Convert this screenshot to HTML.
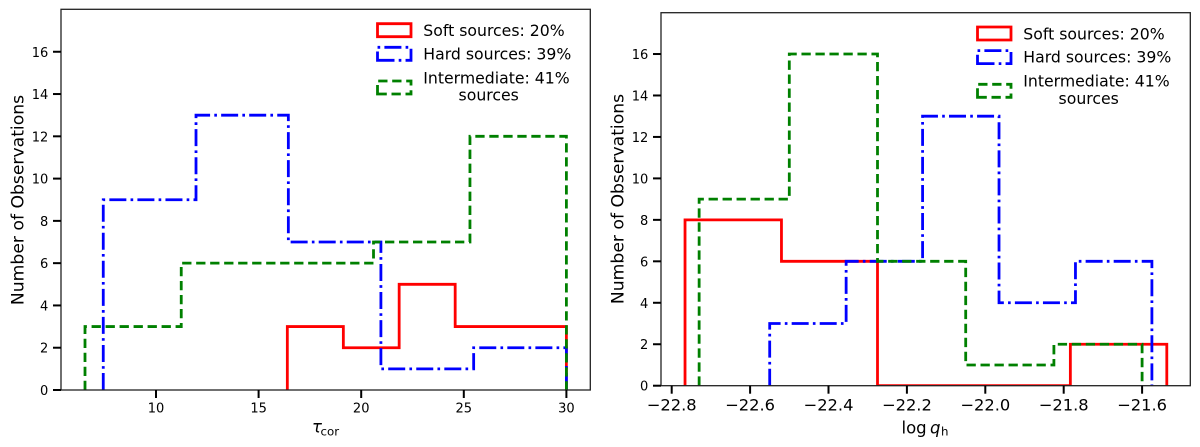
<!DOCTYPE html>
<html>
<head>
<meta charset="utf-8">
<style>
html,body{margin:0;padding:0;background:#fff;}
svg{display:block;}
text{font-family:"DejaVu Sans","Liberation Sans",sans-serif;fill:#000;}
</style>
</head>
<body>
<svg id="fig" xmlns="http://www.w3.org/2000/svg" width="1200" height="447" viewBox="0 0 1200 447">
  <defs>
    <clipPath id="clip-left"><rect x="61" y="9.3" width="529.3" height="380.7"/></clipPath>
    <clipPath id="clip-right"><rect x="661" y="12.7" width="529.3" height="373"/></clipPath>
  </defs>
  <g id="left-panel">
    <g id="left-marks" clip-path="url(#clip-left)"></g>
    <rect x="61" y="9.3" width="529.3" height="380.7" fill="none" stroke="#222" stroke-width="1.3"/>
    <g id="left-ticks"></g>
    <text transform="translate(23.5,200) rotate(-90)" text-anchor="middle" font-size="17.2">Number of Observations</text>
    <text x="312" y="432.7" font-size="16.5"><tspan font-style="italic">τ</tspan><tspan font-size="11.8" x="320.5" dy="2.7">cor</tspan></text>
    <g>
      <path d="M377.5 36.7H411V23.7H377.5Z" fill="none" stroke="#ff0000" stroke-width="2.8"/>
      <text x="423.3" y="36" font-size="15.7">Soft sources: 20%</text>
      <path d="M377.5 60.3H411V47.3H377.5Z" fill="none" stroke="#0000ff" stroke-width="2.8" stroke-dasharray="17 4.2 2.65 4.2"/>
      <text x="423.3" y="59.3" font-size="15.7">Hard sources: 39%</text>
      <path d="M377.5 94H411V81H377.5Z" fill="none" stroke="#008000" stroke-width="2.8" stroke-dasharray="9.3 4.7"/>
      <text x="423.3" y="83.3" font-size="15.7">Intermediate: 41%</text>
      <text x="488.7" y="100.7" font-size="15.7" text-anchor="middle">sources</text>
    </g>
  </g>
  <g id="right-panel">
    <g id="right-marks" clip-path="url(#clip-right)"></g>
    <rect x="661" y="12.7" width="529.3" height="373" fill="none" stroke="#222" stroke-width="1.3"/>
    <g id="right-ticks"></g>
    <text transform="translate(623.5,199) rotate(-90)" text-anchor="middle" font-size="17.2">Number of Observations</text>
    <text x="901.5" y="433.3" font-size="16.5">log<tspan font-style="italic" x="930">q</tspan><tspan font-size="11.8" x="941" dy="2.2">h</tspan></text>
    <g>
      <path d="M977.5 40H1011V27H977.5Z" fill="none" stroke="#ff0000" stroke-width="2.8"/>
      <text x="1023.3" y="39.3" font-size="15.7">Soft sources: 20%</text>
      <path d="M977.5 63.6H1011V50.6H977.5Z" fill="none" stroke="#0000ff" stroke-width="2.8" stroke-dasharray="17 4.2 2.65 4.2"/>
      <text x="1023.3" y="62.6" font-size="15.7">Hard sources: 39%</text>
      <path d="M977.5 97.3H1011V84.3H977.5Z" fill="none" stroke="#008000" stroke-width="2.8" stroke-dasharray="9.3 4.7"/>
      <text x="1023.3" y="86.6" font-size="15.7">Intermediate: 41%</text>
      <text x="1088.7" y="104" font-size="15.7" text-anchor="middle">sources</text>
    </g>
  </g>
</svg>
<script>
// Left panel data (tau_cor)
const leftSoftEdges = [16.4, 19.13, 21.85, 24.58, 27.3, 30];
const leftSoftCounts = [3, 2, 5, 3, 3];
const leftHardEdges = [7.43, 11.95, 16.45, 20.96, 25.48, 30];
const leftHardCounts = [9, 13, 7, 1, 2];
const leftMidEdges = [6.54, 11.23, 15.92, 20.6, 25.3, 30];
const leftMidCounts = [3, 6, 6, 7, 12];
const leftXTicks = [10, 15, 20, 25, 30];
const leftYTicks = [0, 2, 4, 6, 8, 10, 12, 14, 16];

// Right panel data (log q_h)
const rightSoftEdges = [-22.766, -22.52, -22.275, -22.03, -21.783, -21.537];
const rightSoftCounts = [8, 6, 0, 0, 2];
const rightHardEdges = [-22.55, -22.355, -22.16, -21.965, -21.77, -21.575];
const rightHardCounts = [3, 6, 13, 4, 6];
const rightMidEdges = [-22.73, -22.5, -22.275, -22.05, -21.825, -21.6];
const rightMidCounts = [9, 16, 6, 1, 2];
const rightXTicks = [-22.8, -22.6, -22.4, -22.2, -22.0, -21.8, -21.6];
const rightYTicks = [0, 2, 4, 6, 8, 10, 12, 14, 16];

const NS = 'http://www.w3.org/2000/svg';

// Axis functions
function leftX(v) { return 156 + (v - 10) * 20.52; }
function leftY(v) { return 390 - v * 21.14; }
function rightX(v) { return 671.7 + (v + 22.8) * 392; }
function rightY(v) { return 385.7 - v * 20.73; }

function drawStep(parent, edges, counts, xf, yf, color, dash, name) {
  let d = 'M' + xf(edges[0]).toFixed(2) + ' ' + yf(0).toFixed(2);
  counts.forEach(function (c, i) {
    d += 'V' + yf(c).toFixed(2) + 'H' + xf(edges[i + 1]).toFixed(2);
  });
  d += 'V' + yf(0).toFixed(2);
  const el = document.createElementNS(NS, 'path');
  
  
  el.setAttribute('d', d);
  el.setAttribute('fill', 'none');
  el.setAttribute('stroke', color);
  el.setAttribute('stroke-width', '2.8');
  if (dash) el.setAttribute('stroke-dasharray', dash);
  parent.appendChild(el);
}

function drawTicks(parent, xTicks, yTicks, xf, yf, xLabel, xFont, xBase, axisLeft, axisBottom) {
  xTicks.forEach(function (t) {
    const ln = document.createElementNS(NS, 'line');
    
    
    ln.setAttribute('x1', xf(t));
    ln.setAttribute('x2', xf(t));
    ln.setAttribute('y1', axisBottom);
    ln.setAttribute('y2', axisBottom + 8);
    ln.setAttribute('stroke', '#000');
    ln.setAttribute('stroke-width', '2');
    parent.appendChild(ln);
    const tx = document.createElementNS(NS, 'text');
    
    
    tx.setAttribute('x', xf(t));
    tx.setAttribute('y', xBase);
    tx.setAttribute('text-anchor', 'middle');
    tx.setAttribute('font-size', xFont);
    tx.textContent = xLabel(t);
    parent.appendChild(tx);
  });
  yTicks.forEach(function (t) {
    const ln = document.createElementNS(NS, 'line');
    
    
    ln.setAttribute('x1', axisLeft - 8);
    ln.setAttribute('x2', axisLeft);
    ln.setAttribute('y1', yf(t));
    ln.setAttribute('y2', yf(t));
    ln.setAttribute('stroke', '#000');
    ln.setAttribute('stroke-width', '2');
    parent.appendChild(ln);
    const tx = document.createElementNS(NS, 'text');
    
    
    tx.setAttribute('x', axisLeft - 12.7);
    tx.setAttribute('y', yf(t) + 5);
    tx.setAttribute('text-anchor', 'end');
    tx.setAttribute('font-size', '13');
    tx.textContent = String(t);
    parent.appendChild(tx);
  });
}

const DASHDOT = '17 4.2 2.65 4.2';
const DASHED = '9.3 4.7';

const lm = document.getElementById('left-marks');
drawStep(lm, leftSoftEdges, leftSoftCounts, leftX, leftY, '#ff0000', null, 'left-soft-sources-histogram');
drawStep(lm, leftHardEdges, leftHardCounts, leftX, leftY, '#0000ff', DASHDOT, 'left-hard-sources-histogram');
drawStep(lm, leftMidEdges, leftMidCounts, leftX, leftY, '#008000', DASHED, 'left-intermediate-sources-histogram');

const rm = document.getElementById('right-marks');
drawStep(rm, rightSoftEdges, rightSoftCounts, rightX, rightY, '#ff0000', null, 'right-soft-sources-histogram');
drawStep(rm, rightHardEdges, rightHardCounts, rightX, rightY, '#0000ff', DASHDOT, 'right-hard-sources-histogram');
drawStep(rm, rightMidEdges, rightMidCounts, rightX, rightY, '#008000', DASHED, 'right-intermediate-sources-histogram');

drawTicks(document.getElementById('left-ticks'), leftXTicks, leftYTicks, leftX, leftY,
  function (t) { return String(t); }, '13', 412.7, 61, 390);
drawTicks(document.getElementById('right-ticks'), rightXTicks, rightYTicks, rightX, rightY,
  function (t) { return '\u2212' + Math.abs(t).toFixed(1); }, '16.3', 410.7, 661, 385.7);
</script>
</body>
</html>
